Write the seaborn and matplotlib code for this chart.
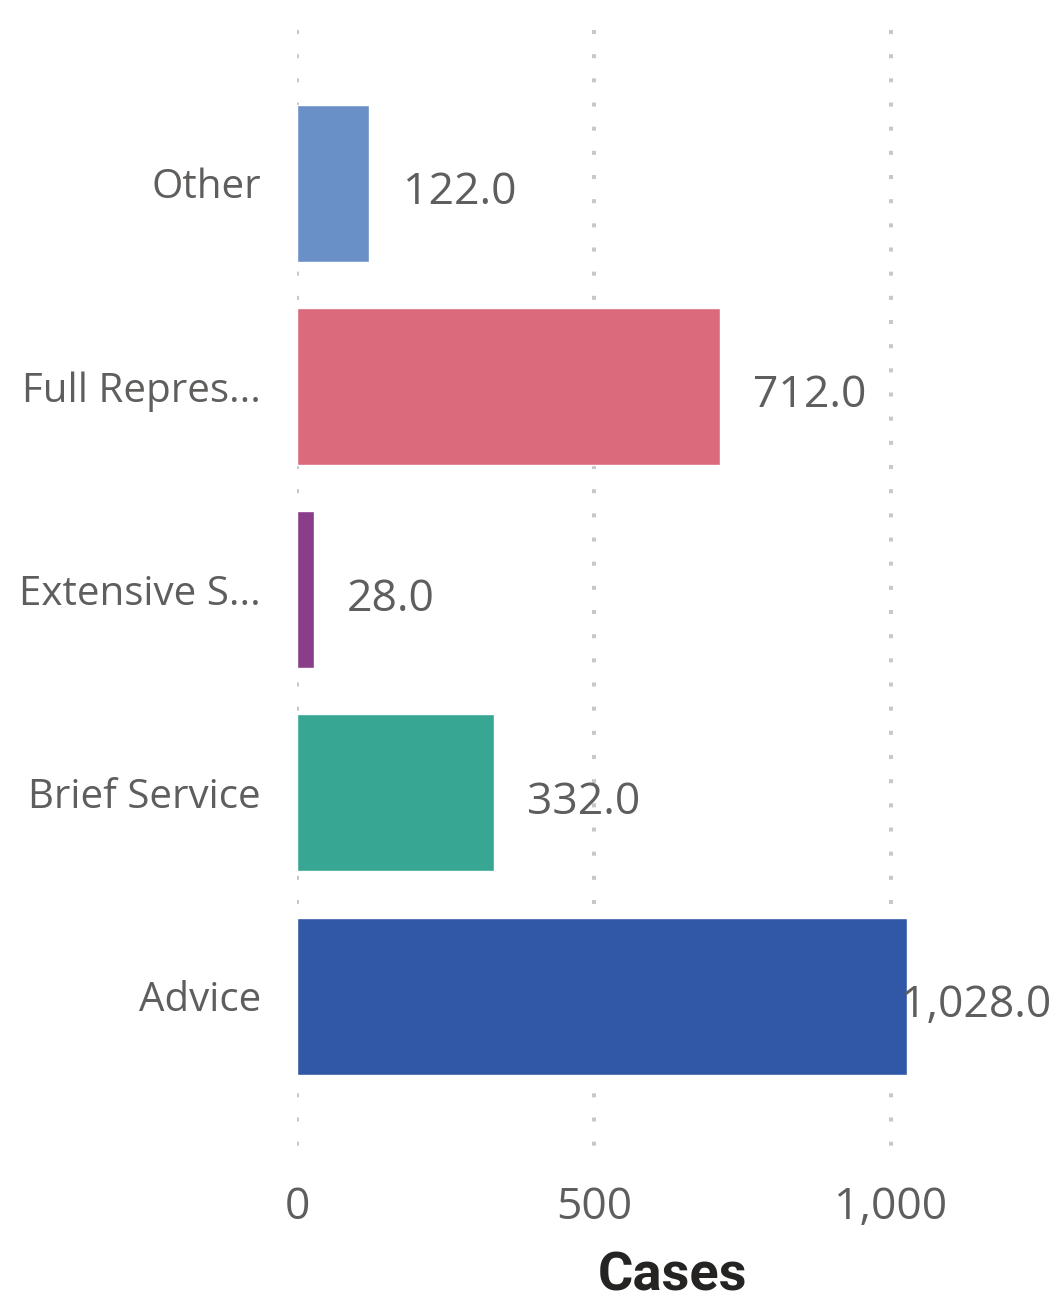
'''
horizontal bar chart of cases by service type
'''

import matplotlib.pyplot as plt
import seaborn as sns
import pandas as pd

categories = ["Other", "Full Repres...", "Extensive S...", "Brief Service", "Advice"]
cases = [122.0, 712.0, 28.0, 332.0, 1028.0]
bar_colors = ["#6a91c7", "#dc6a7d", "#8a3e8a", "#37a794", "#3157a7"]
x_ticks = [0, 500, 1000]
x_tick_labels = ["0", "500", "1,000"]

TEXT_GREY = "#605e5c"


def main(output_path="out.png") -> None:
    sns.set_theme(style="white")
    plt.rcParams["font.family"] = ["Open Sans", "DejaVu Sans"]

    df = pd.DataFrame({"Category": categories, "Cases": cases})

    fig = plt.figure(figsize=(10.54, 13.08), dpi=100)
    ax = fig.add_axes([0.2818, 0.1131, 0.7125, 0.8639])

    sns.barplot(data=df, x="Cases", y="Category", hue="Category",
                palette=bar_colors, orient="h", width=0.772,
                legend=False, saturation=1, ax=ax, zorder=3)

    xmax = 1265
    ytop, ybottom = -0.753, 4.807
    ax.set_xlim(0, xmax)
    ax.set_ylim(ybottom, ytop)

    # dotted vertical gridlines, drawn top-down so the dots line up with the top
    for t in x_ticks:
        ax.plot([t, t], [ytop, ybottom], color="#c8c8c8", lw=2.9,
                ls=(0, (1, 5)), zorder=1, solid_capstyle="butt")

    for s in ax.spines.values():
        s.set_visible(False)

    ax.set_xticks(x_ticks)
    ax.set_xticklabels(x_tick_labels)
    ax.tick_params(axis="x", length=0, pad=18, labelsize=32, labelcolor=TEXT_GREY)
    ax.tick_params(axis="y", length=0, pad=26, labelsize=29, labelcolor=TEXT_GREY)

    ax.set_ylabel("")
    ax.set_xlabel("Cases", fontsize=39, fontweight="bold", color="#252423",
                  family=["Roboto", "DejaVu Sans"], labelpad=15)

    # value labels, pushed back inside the plot when they would overflow
    for i, v in enumerate(cases):
        label = f"{v:,.1f}"
        if v > 0.75 * xmax:
            ax.annotate(label, xy=(1, i), xycoords=("axes fraction", "data"),
                        xytext=(2, -7), textcoords="offset points",
                        ha="right", va="center", fontsize=32, color=TEXT_GREY)
        else:
            ax.annotate(label, xy=(v, i), xytext=(24, -7), textcoords="offset points",
                        ha="left", va="center", fontsize=32, color=TEXT_GREY)

    fig.savefig(output_path, dpi=100)


if __name__ == "__main__":
    main()
